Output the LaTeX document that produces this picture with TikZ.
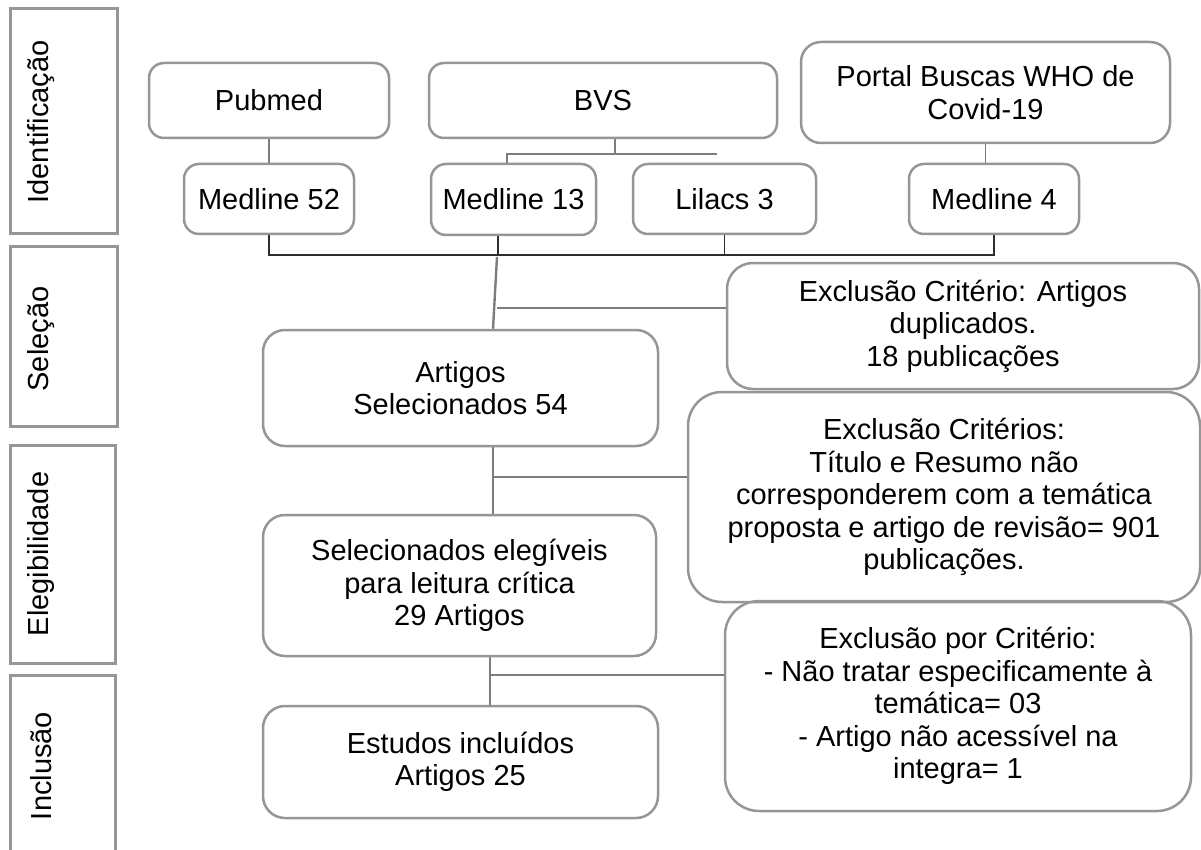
\documentclass[tikz,border=0pt]{standalone}
\usepackage{fontspec}
\setmainfont{Liberation Sans}
\usepackage{tikz}
\usetikzlibrary{positioning,calc}
\definecolor{borda}{RGB}{150,150,150}
\definecolor{linhacinza}{RGB}{125,125,125}
\definecolor{linhaescura}{RGB}{45,45,45}

\begin{document}
\begin{tikzpicture}[x=1pt,y=-1pt,font=\fontsize{29pt}{32.5pt}\selectfont,
                    node distance=98.5pt]
  \tikzstyle{fase}=[draw=borda, line width=3pt, inner sep=0pt]
  \tikzstyle{caixa}=[draw=borda, line width=2.5pt, rounded corners=15pt,
                     align=center, inner sep=0pt]
  \tikzstyle{grande}=[caixa, rounded corners=34pt]
  \tikzstyle{fino}=[draw=linhacinza, line width=1.3pt]
  \tikzstyle{escuro}=[draw=linhaescura, line width=1.8pt]
  \tikzstyle{cinza}=[draw=linhacinza, line width=2.4pt]

  \useasboundingbox (0,0) rectangle (1201,850);

  % fases
  \node[fase, minimum width=107pt, minimum height=225pt] (fIdent) at (63.5,121.5) {};
  \node[fase, minimum width=107pt, minimum height=179pt] (fSel)   at (63.5,336.5) {};
  \node[fase, minimum width=105pt, minimum height=218pt] (fEleg)  at (62.5,554) {};
  \node[fase, minimum width=105pt, minimum height=190pt] (fIncl)  at (62.5,770) {};
  \node[rotate=90] (tIdent) at (41,122) {Identificação};
  \node[rotate=90] (tSel)   at (41,339) {Seleção};
  \node[rotate=90] (tEleg)  at (41,554) {Elegibilidade};
  \node[rotate=90] (tIncl)  at (41,766) {Inclusão};

  % bases
  \node[caixa, minimum width=240pt, minimum height=75pt] (pubmed) at (269,100.5) {Pubmed};
  \node[caixa, minimum width=348pt, minimum height=75pt] (bvs) at (603,100.5) {BVS};
  \node[caixa, rounded corners=20pt, minimum width=369pt, minimum height=101pt]
        (portal) at (985.5,92.5) {Portal Buscas WHO de\\Covid-19};

  \node[caixa, minimum width=170pt, minimum height=70pt] (m52) [below of = pubmed] {Medline 52};
  \node[caixa, minimum width=165pt, minimum height=71pt] (m13) at (513.5,199.5) {Medline 13};
  \node[caixa, minimum width=183pt, minimum height=70pt] (lilacs) at (724.5,199) {Lilacs 3};
  \node[caixa, minimum width=170pt, minimum height=70pt] (m4) at (994,199) {Medline 4};

  % fluxo
  \node[caixa, rounded corners=22pt, minimum width=395pt, minimum height=116pt]
        (artigos) at (460.5,388) {Artigos\\Selecionados 54};
  \node[caixa, rounded corners=22pt, minimum width=393pt, minimum height=141pt]
        (elegiveis) at (459.5,585.5) {Selecionados elegíveis\\para leitura crítica\\29 Artigos};
  \node[caixa, rounded corners=22pt, minimum width=395pt, minimum height=112pt]
        (incluidos) at (460.5,762) {Estudos incluídos\\Artigos 25};

  % exclusoes
  \node[caixa, rounded corners=26pt, minimum width=472pt, minimum height=126pt]
        (excl1) at (963,326) {Exclusão Critério: Artigos\\duplicados.\\18 publicações};
  \node[grande, minimum width=512pt, minimum height=210pt]
        (excl2) at (944,497) {Exclusão Critérios:\\Título e Resumo não\\corresponderem com a temática\\proposta e artigo de revisão= 901\\publicações.};
  \node[grande, minimum width=466pt, minimum height=210pt]
        (excl3) at (958,706) {Exclusão por Critério:\\- Não tratar especificamente à\\temática= 03\\- Artigo não acessível na\\integra= 1};

  % ligacoes das bases
  \path (pubmed) edge[fino] (m52)
        (portal.south) edge[fino] (portal.south |- m4.north);
  \coordinate (bvsFim) at (717,154);
  \draw[fino] ([xshift=12pt]bvs.south) -- ([xshift=12pt]bvs.south |- bvsFim);
  \draw[fino] ([xshift=-6.5pt]m13.north) |- (bvsFim);

  \draw[escuro] (m52.south) -- ++(0,20) -| (m4.south);
  \draw[escuro] ([xshift=-15.5pt]m13.south) -- ++(0,19);
  \draw[escuro] (lilacs.south) -- ++(0,20);

  % ligacoes do fluxo
  \coordinate (juntaTopo) at (497,257);
  \draw[cinza] (juntaTopo) -- ([xshift=32.5pt]artigos.north);
  \draw[cinza] ([yshift=18pt]excl1.west) -- ++(-229,0);
  \draw[cinza] ([xshift=32.5pt]artigos.south) -- ([xshift=33.5pt]elegiveis.north);
  \draw[cinza] ([yshift=20pt]excl2.west) -- ++(-193,0);
  \draw[cinza] ([xshift=30.5pt]elegiveis.south) -- ([xshift=29.5pt]incluidos.north);
  \draw[cinza] ([yshift=31pt]excl3.west) -- ++(-235,0);
\end{tikzpicture}
\end{document}
